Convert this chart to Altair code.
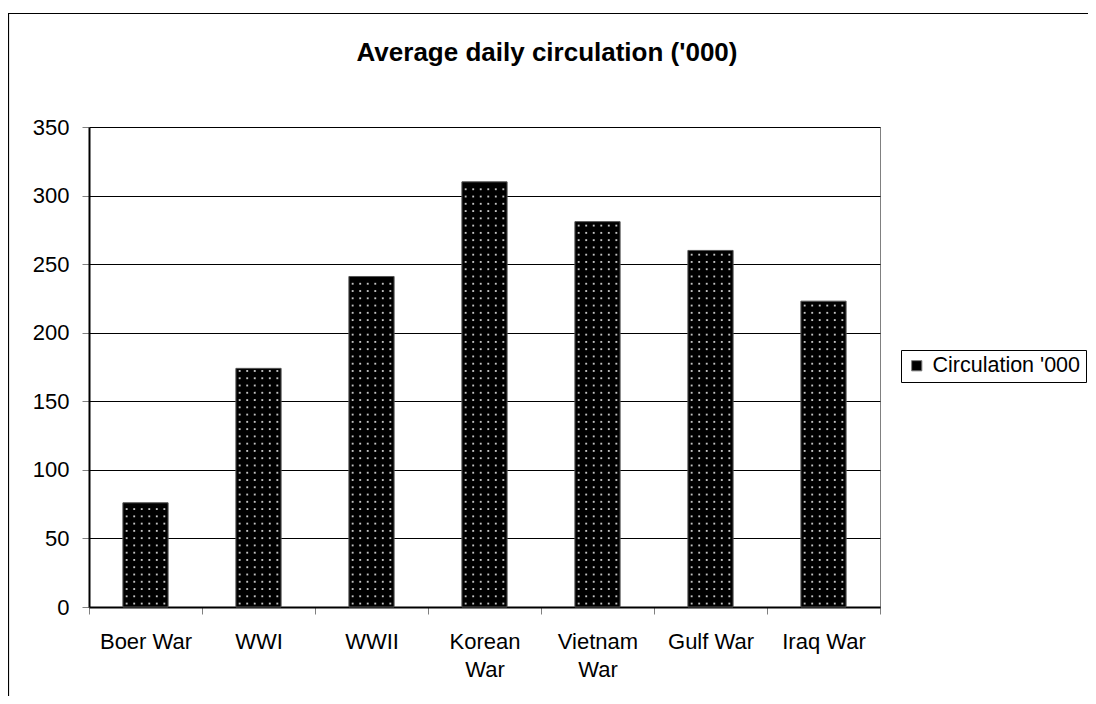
import altair as alt
import pandas as pd

# ---- data ----
wars = ["Boer War", "WWI", "WWII", "Korean War", "Vietnam War", "Gulf War", "Iraq War"]
circulation = [76, 174, 241, 310, 281, 260, 223]
series_name = "Circulation '000"
y_ticks = [0, 50, 100, 150, 200, 250, 300, 350]
title_text = "Average daily circulation ('000)"

df = pd.DataFrame({
    "war": wars,
    "value": circulation,
    "series": [series_name] * len(wars),
})

FONT = "Liberation Sans"
PLOT_W, PLOT_H = 791, 480
BAR_FRAC = 0.4
DOT_COLS = 6

x_axis = alt.Axis(
    title=None, tickBand="extent", tickColor="#808080", tickSize=7, tickWidth=1,
    domainColor="black", domainWidth=2, labelFont=FONT, labelFontSize=22,
    labelColor="black", labelAngle=0, labelPadding=17, labelLineHeight=28,
    labelBaseline="top",
    labelExpr="length(datum.label) > 9 ? split(datum.label, ' ') : datum.label",
)
x_scale = alt.Scale(paddingInner=0, paddingOuter=0)

y_axis = alt.Axis(
    title=None, values=y_ticks, grid=True, gridColor="black", gridWidth=1,
    tickColor="#808080", tickSize=7, tickWidth=1, domainColor="black", domainWidth=2,
    labelFont=FONT, labelFontSize=22, labelColor="black", labelPadding=13,
)
y_scale = alt.Scale(domain=[0, 350], nice=False, zero=True)

base = alt.Chart(df)

bars = base.mark_bar(
    width=alt.RelativeBandSize(BAR_FRAC), stroke="#555555", strokeWidth=1
).encode(
    x=alt.X("war:N", sort=wars, scale=x_scale, axis=x_axis),
    y=alt.Y("value:Q", scale=y_scale, axis=y_axis),
    color=alt.Color(
        "series:N",
        scale=alt.Scale(range=["#000000"]),
        legend=alt.Legend(
            title=None, orient="none", legendX=812, legendY=223,
            labelFont=FONT, labelFontSize=21.5, labelColor="black",
            symbolType="square", symbolSize=105, symbolStrokeColor="#808080",
            symbolStrokeWidth=1, labelOffset=5,
            strokeColor="black", fillColor="white", padding=5,
        ),
    ),
)

# dotted texture of the bars (derived from each bar's value)
dots = base.transform_window(
    idx="row_number()"
).transform_calculate(
    dot_y="sequence(2.5, datum.value - 1.5, 5.3)",
    dot_col=f"sequence(0, {DOT_COLS})",
).transform_flatten(["dot_y"]).transform_flatten(["dot_col"]).transform_calculate(
    dot_x=f"datum.idx - 1 + {(1 - BAR_FRAC) / 2} + (datum.dot_col + 0.5) * {BAR_FRAC / DOT_COLS}"
).mark_square(
    size=3.5, color="#d8d8d8", opacity=0.9
).encode(
    x=alt.X("dot_x:Q", scale=alt.Scale(domain=[0, len(wars)], nice=False, zero=False), axis=None),
    y=alt.Y("dot_y:Q", scale=y_scale, axis=y_axis),
)

title = alt.Chart(alt.Data(values=[{"t": title_text}])).mark_text(
    font=FONT, fontSize=26, fontWeight="bold", color="black",
    align="center", baseline="alphabetic",
).encode(text="t:N", x=alt.value(458), y=alt.value(-66))

frame = alt.Chart(alt.Data(values=[{"a": 1}])).mark_rect(
    filled=False, stroke="black", strokeWidth=1.2
).encode(x=alt.value(-80.5), x2=alt.value(1400), y=alt.value(-113.5), y2=alt.value(1000))

chart = alt.layer(bars, dots, title, frame).resolve_scale(x="independent").properties(
    width=PLOT_W, height=PLOT_H,
    autosize=alt.AutoSizeParams(type="none"),
    padding={"left": 81, "top": 119, "right": 208, "bottom": 89},
    background="white",
).configure_view(stroke="#808080", strokeWidth=1)

chart.save("out.html", embed_options={"renderer": "svg", "actions": False})
